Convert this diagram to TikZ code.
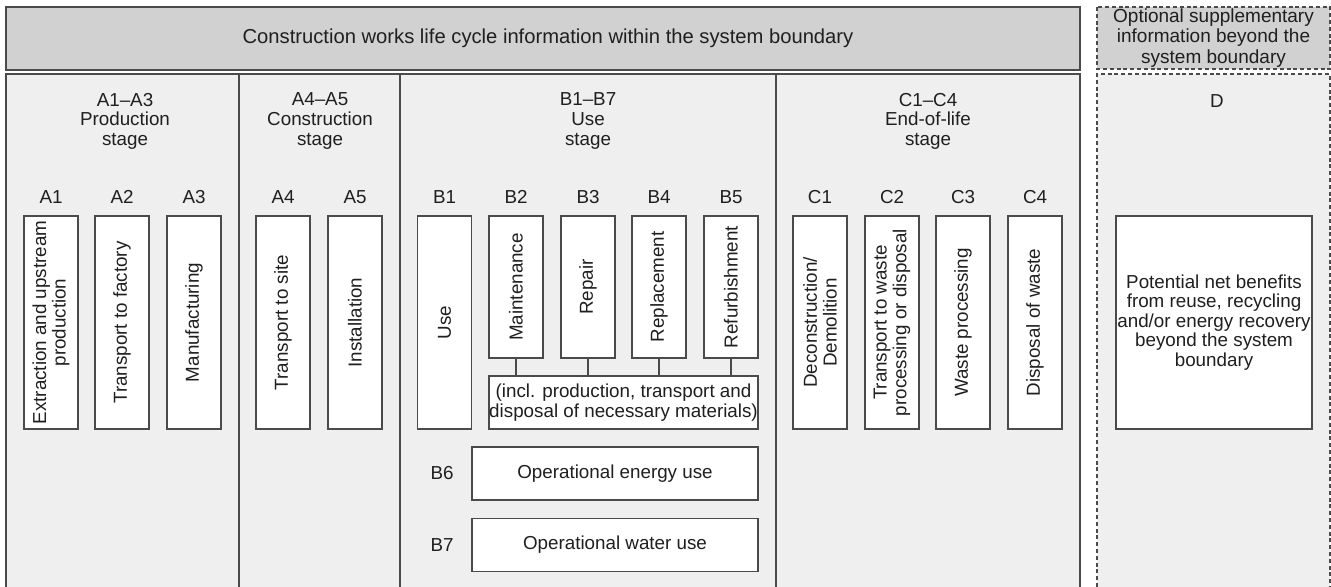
\documentclass[tikz,border=0pt]{standalone}
\usepackage{fontspec}
\setmainfont{Liberation Sans}
\definecolor{headgray}{HTML}{D1D1D1}
\definecolor{bodygray}{HTML}{EFEFEF}
\definecolor{edgegray}{HTML}{4A4A4A}
\begin{document}
\begin{tikzpicture}[x=0.5pt, y=-0.5pt,
  every node/.style={font=\fontsize{9.4}{9.8}\selectfont, text=black!88},
  box/.style={draw=edgegray, fill=white, line width=0.6pt, inner sep=0pt, align=center},
  upbox/.style={box, rotate=90, minimum width=106.5pt, minimum height=27pt},
  shortbox/.style={box, rotate=90, minimum width=71pt, minimum height=27pt},
  widebox/.style={box, minimum width=143pt, minimum height=26.5pt},
  frame/.style={draw=edgegray, line width=0.7pt},
  optframe/.style={frame, dash pattern=on 2pt off 1.4pt}]

\useasboundingbox (0,0) rectangle (1331,587);
\fill[white] (0,0) rectangle (1331,587);

% header bands
\filldraw[fill=headgray, frame] (6,7) rectangle (1080,70);
\node[font=\fontsize{10.1}{11}\selectfont] (title) at (548,38.5)
  {Construction works life cycle information within the system boundary};

\filldraw[fill=headgray, optframe] (1097,7) rectangle (1330,69);
\node[align=center, font=\fontsize{9.5}{10.1}\selectfont] (opttitle) at (1213.5,38)
  {Optional supplementary\\information beyond the\\system boundary};

% stage frames
\fill[bodygray] (6,74) rectangle (1080,587);
\draw[frame] (6,587) |- (1080,74) -- (1080,587);
\draw[frame] (239,74) -- (239,587);
\draw[frame] (400,74) -- (400,587);
\draw[frame] (776,74) -- (776,587);

\fill[bodygray] (1097,74) rectangle (1330,587);
\draw[optframe] (1097,587) |- (1330,74) -- (1330,587);

% stage headings
\node[align=center] (prodstage) at (125,121) {A1--A3\\Production\\stage};
\node[align=center] (conststage) at (320,121) {A4--A5\\Construction\\stage};
\node[align=center] (usestage) at (588,121) {B1--B7\\Use\\stage};
\node[align=center] (eolstage) at (928,121) {C1--C4\\End-of-life\\stage};
\node (dstage) at (1217,101) {D};

% module codes
\foreach \code/\x in {A1/51, A2/122, A3/194, A4/283, A5/355, B1/444.5, B2/516, B3/588,
  B4/659, B5/731, C1/820, C2/892, C3/963, C4/1035}
  \node (lab\code) at (\x,197) {\code};

% modules
\node[upbox] (a1) at (51,322.5) {Extraction and upstream\\production};
\node[upbox] (a2) at (122,322.5) {Transport to factory};
\node[upbox] (a3) at (194,322.5) {Manufacturing};
\node[upbox] (a4) at (283,322.5) {Transport to site};
\node[upbox] (a5) at (355,322.5) {Installation};

\node[upbox] (b1) at (444.5,322.5) {Use};
\node[shortbox] (b2) at (516,287) {Maintenance};
\node[shortbox] (b3) at (588,287) {Repair};
\node[shortbox] (b4) at (659,287) {Replacement};
\node[shortbox] (b5) at (731,287) {Refurbishment};
\node[box, minimum width=134.5pt, minimum height=26.5pt] (incl) at (623.5,402.5)
  {(incl. production, transport and\\disposal of necessary materials)};
\foreach \m in {b2,b3,b4,b5}
  \draw[edgegray, line width=0.6pt] (\m.west) -- (\m.west |- incl.north);

\node (labB6) at (442,473.5) {B6};
\node[widebox] (b6) at (615,473.5) {Operational energy use};
\node (labB7) at (442,545) {B7};
\node[widebox] (b7) at (615,545) {Operational water use};

\node[upbox] (c1) at (820,322.5) {Deconstruction/\\Demolition};
\node[upbox] (c2) at (892,322.5) {Transport to waste\\processing or disposal};
\node[upbox] (c3) at (963,322.5) {Waste processing};
\node[upbox] (c4) at (1035,322.5) {Disposal of waste};

\node[box, minimum width=98pt, minimum height=106.5pt] (dbox) at (1214,322.5)
  {Potential net benefits\\from reuse, recycling\\and/or energy recovery\\beyond the system\\boundary};

\end{tikzpicture}
\end{document}
